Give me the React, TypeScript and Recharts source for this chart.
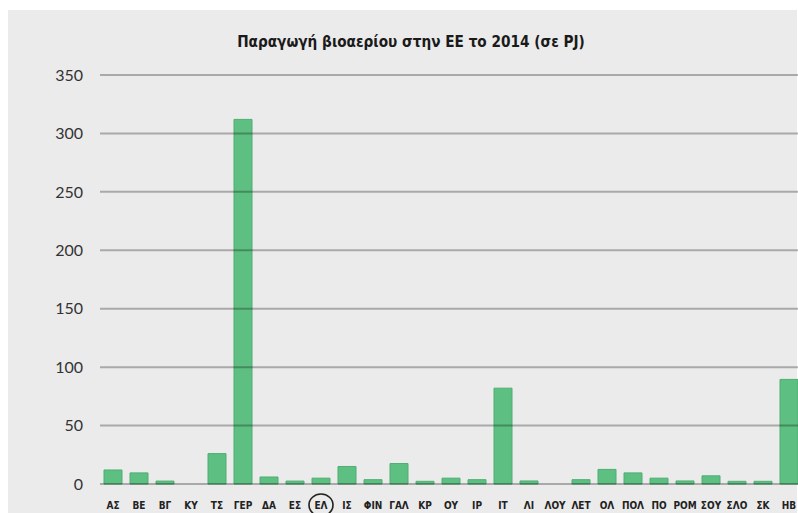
import React from "react";
import { BarChart, Bar, XAxis, YAxis, ReferenceLine } from "recharts";

const countries = [
  "ΑΣ", "ΒΕ", "ΒΓ", "ΚΥ", "ΤΣ", "ΓΕΡ", "ΔΑ", "ΕΣ", "ΕΛ", "ΙΣ", "ΦΙΝ", "ΓΑΛ", "ΚΡ", "ΟΥ",
  "ΙΡ", "ΙΤ", "ΛΙ", "ΛΟΥ", "ΛΕΤ", "ΟΛ", "ΠΟΛ", "ΠΟ", "ΡΟΜ", "ΣΟΥ", "ΣΛΟ", "ΣΚ", "ΗΒ",
];
const production = [
  12, 9.5, 2.5, 0, 26, 312, 6, 2.5, 5, 15, 3.7, 17.5, 2.3, 5,
  3.7, 82, 2.6, 0, 3.7, 12.5, 9.5, 5, 2.6, 7, 2.3, 2.3, 89.5,
];
const yTicks = [0, 50, 100, 150, 200, 250, 300, 350];
const highlighted = "ΕΛ";

const data = countries.map((c, i) => ({ country: c, value: production[i] }));

const CountryTick = (props: any) => {
  const { x, y, payload } = props;
  const isHl = payload.value === highlighted;
  return (
    <g>
      {isHl && (
        <ellipse cx={x} cy={y + 13} rx={12} ry={11} fill="none" stroke="#222" strokeWidth={1.6} />
      )}
      <text
        x={x}
        y={y + 13}
        dy="0.35em"
        textAnchor="middle"
        fontFamily="'DejaVu Sans Condensed', 'DejaVu Sans', sans-serif"
        fontWeight="bold"
        fontSize={10}
        fill="#222"
      >
        {payload.value}
      </text>
    </g>
  );
};

export default function App() {
  return (
    <div style={{ position: "relative", width: 798, height: 513, background: "#fff", overflow: "hidden" }}>
      <style>{`body{margin:0}`}</style>
      <div style={{ position: "absolute", left: 8, top: 10, width: 789, height: 503, background: "#ebebeb" }} />
      <div
        style={{
          position: "absolute",
          left: 0,
          top: 33,
          width: 822,
          textAlign: "center",
          fontFamily: "'DejaVu Sans Condensed', 'DejaVu Sans', sans-serif",
          fontWeight: "bold",
          fontSize: 15.2,
          color: "#1a1a1a",
        }}
      >
        Παραγωγή βιοαερίου στην ΕΕ το 2014 (σε PJ)
      </div>
      <div style={{ position: "absolute", left: 0, top: 0 }}>
        <BarChart
          width={802}
          height={513}
          data={data}
          margin={{ top: 75, right: 0, bottom: 0, left: 0 }}
          barSize={18}
        >
          <XAxis
            dataKey="country"
            axisLine={false}
            tickLine={false}
            height={29}
            interval={0}
            tick={<CountryTick />}
          />
          <YAxis
            domain={[0, 350]}
            ticks={yTicks}
            width={100}
            axisLine={false}
            tickLine={false}
            tickSize={0}
            tickMargin={17}
            tick={{ fontFamily: "Lato, sans-serif", fontSize: 16, fill: "#333" }}
          />
          <Bar
            dataKey="value"
            fill="#5ebf82"
            stroke="#4fae73"
            strokeWidth={1}
            isAnimationActive={false}
          />
          {yTicks.map((t) => (
            <ReferenceLine key={t} y={t} stroke="rgba(0,0,0,0.28)" strokeWidth={2} />
          ))}
        </BarChart>
      </div>
    </div>
  );
}
